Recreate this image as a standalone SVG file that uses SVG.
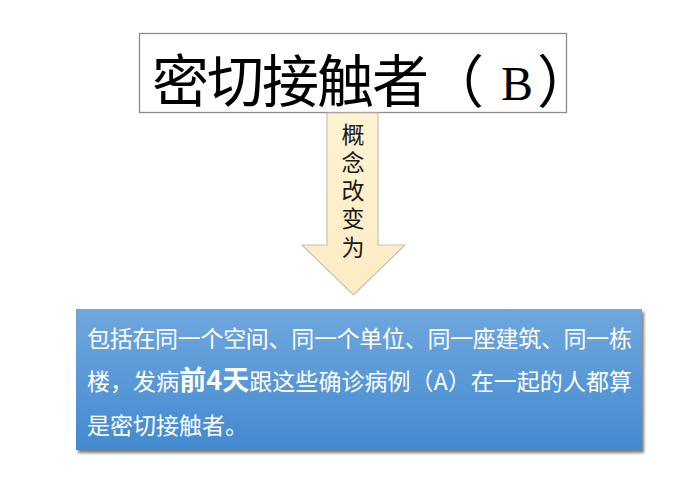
<svg xmlns="http://www.w3.org/2000/svg" width="694" height="490" viewBox="0 0 694 490">
<defs>
<linearGradient id="blue" x1="0" y1="0" x2="0" y2="1">
<stop offset="0" stop-color="#6fa7dd"/>
<stop offset="1" stop-color="#438ad0"/>
</linearGradient>
<linearGradient id="cream" x1="0" y1="0" x2="0" y2="1">
<stop offset="0" stop-color="#fff3d2"/>
<stop offset="1" stop-color="#fdecc4"/>
</linearGradient>
<filter id="sh" x="-5%" y="-5%" width="110%" height="115%">
<feGaussianBlur stdDeviation="1.5"/>
</filter>
</defs>
<style>
.cjk{font-family:"Liberation Serif","Noto Sans CJK SC",serif;}
.body{font-family:"Noto Sans CJK SC",sans-serif;fill:#ffffff;font-size:23px;}
</style>
<rect width="694" height="490" fill="#ffffff"/>
<g id="title">
<rect x="139.5" y="33.5" width="427" height="79" fill="#ffffff" stroke="#8c8c8c" stroke-width="1.3"/>
<text class="cjk" font-size="57" fill="#000000"><tspan x="152" y="102">密</tspan><tspan x="207" y="102">切</tspan><tspan x="262" y="102">接</tspan><tspan x="317" y="102">触</tspan><tspan x="372" y="102">者</tspan><tspan x="427" y="102">（</tspan><tspan x="501" y="100" font-size="48">B</tspan><tspan x="537" y="102">）</tspan></text>
</g>
<g id="connectors">
<g id="arrow">
<polygon points="327,113 378,113 378,245 405,245 353.5,295 302,245 327,245" fill="url(#cream)" stroke="#c8c0b2" stroke-width="1.2"/>
<g class="cjk" font-size="23" fill="#1a1a1a" text-anchor="middle">
<text x="353" y="143">概</text>
<text x="353" y="171">念</text>
<text x="353" y="199">改</text>
<text x="353" y="227">变</text>
<text x="353" y="256">为</text>
</g>
</g>
</g>
<g id="definition">
<rect x="78" y="312" width="566" height="141" fill="#7a7a7a" filter="url(#sh)"/>
<rect x="76" y="309" width="566" height="141" fill="url(#blue)"/>
<text class="body" x="87" y="347" textLength="545" lengthAdjust="spacing">包括在同一个空间、同一个单位、同一座建筑、同一栋</text>
<text class="body" x="87" y="390" textLength="545" lengthAdjust="spacing">楼，发病<tspan font-weight="bold" font-size="27">前4天</tspan>跟这些确诊病例（A）在一起的人都算</text>
<text class="body" x="87" y="434">是密切接触者。</text>
</g>
</svg>
